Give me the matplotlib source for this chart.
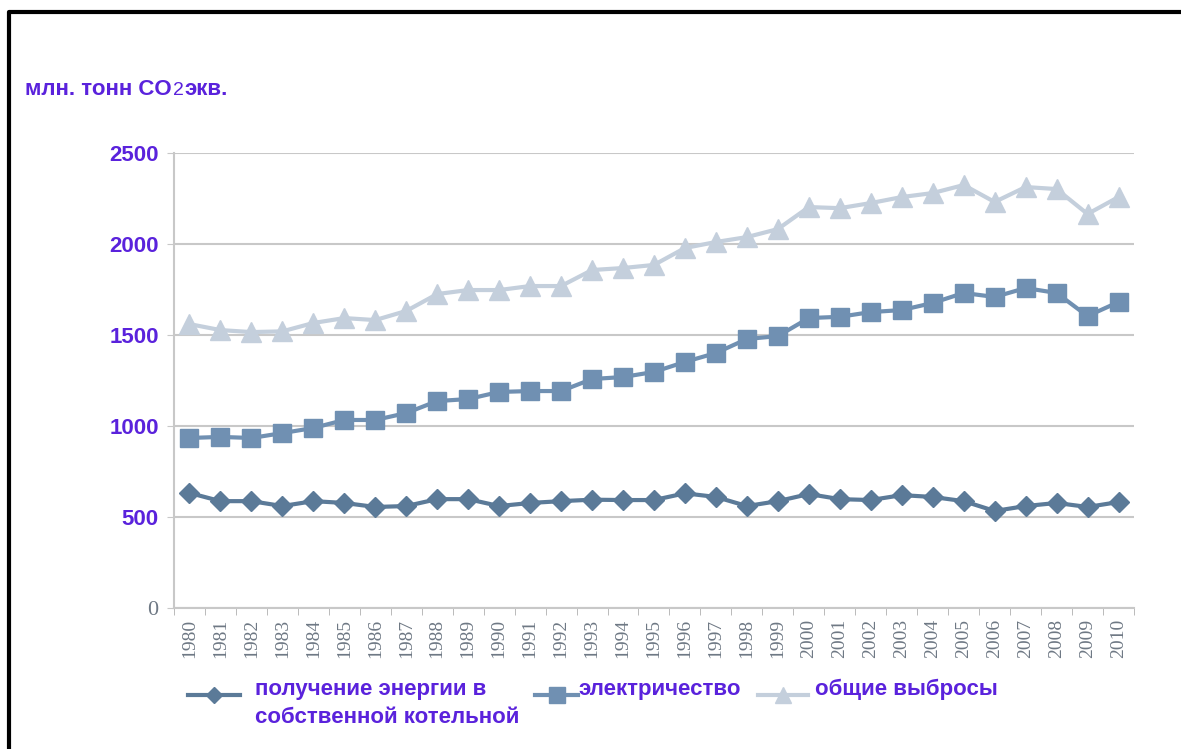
import matplotlib
matplotlib.use("Agg")
import matplotlib.pyplot as plt
from matplotlib.lines import Line2D

# данные (млн. тонн CO2 экв.)
years = [str(y) for y in range(1980, 2011)]
own_boiler = [632, 587, 587, 560, 587, 577, 555, 560, 598, 598,
              560, 577, 587, 595, 593, 593, 630, 610, 560, 587,
              626, 598, 593, 620, 610, 587, 533, 560, 577, 555, 582]
electricity = [934, 940, 934, 961, 989, 1033, 1033, 1071, 1137, 1148,
               1187, 1192, 1192, 1258, 1269, 1297, 1352, 1401, 1478, 1494,
               1593, 1600, 1626, 1637, 1676, 1731, 1709, 1758, 1731, 1604, 1681]
total = [1560, 1527, 1516, 1520, 1566, 1593, 1582, 1632, 1725, 1747,
         1747, 1769, 1769, 1857, 1868, 1885, 1978, 2011, 2038, 2082,
         2203, 2197, 2225, 2258, 2280, 2324, 2231, 2313, 2302, 2165, 2258]
y_ticks = [0, 500, 1000, 1500, 2000, 2500]

labels = ["получение энергии в\nсобственной котельной", "электричество", "общие выбросы"]

PURPLE = "#5a22dc"
GREY_TXT = "#6e7884"
C_DIAM = "#5b7a98"
C_SQ = "#7090b2"
C_TRI = "#c4cfdc"

plt.rcParams["font.family"] = ["Liberation Sans", "DejaVu Sans"]

fig = plt.figure(figsize=(11.81, 7.49), dpi=100)
ax = fig.add_axes([0.1473, 0.1883, 0.8129, 0.6074])

x = list(range(len(years)))
ax.plot(x, total, color=C_TRI, lw=3, marker="^", ms=14, zorder=3)
ax.plot(x, electricity, color=C_SQ, lw=3, marker="s", ms=13, zorder=4)
ax.plot(x, own_boiler, color=C_DIAM, lw=3, marker="D", ms=10, zorder=5)

ax.set_xlim(-0.5, len(years) - 0.5)
ax.set_ylim(0, 2500)
ax.set_yticks(y_ticks)
ax.set_yticklabels([str(v) for v in y_ticks])
ax.yaxis.grid(True, color="#c8c8c8", lw=1.5)
ax.set_axisbelow(True)

ax.set_xticks(x)
ax.set_xticklabels(years, rotation=90, family="Liberation Serif",
                   fontsize=14, color=GREY_TXT)
ax.tick_params(axis="x", length=0, pad=8)
ax.set_xticks([i + 0.5 for i in range(-1, len(years))], minor=True)
ax.tick_params(axis="x", which="minor", length=5, color="#b0b0b0")
ax.tick_params(axis="y", length=5, color="#c8c8c8", pad=6)

for i, lab in enumerate(ax.get_yticklabels()):
    if i == 0:
        lab.set_family("Liberation Serif")
        lab.set_color(GREY_TXT)
        lab.set_fontsize(16)
    else:
        lab.set_color(PURPLE)
        lab.set_fontweight("bold")
        lab.set_fontsize(16)

for s in ["top", "right"]:
    ax.spines[s].set_visible(False)
for s in ["left", "bottom"]:
    ax.spines[s].set_color("#c8c8c8")
    ax.spines[s].set_linewidth(1.5)

# заголовок оси
fig.canvas.draw()
rend = fig.canvas.get_renderer()
t1 = fig.text(25 / 1181, 1 - 95 / 749, "млн. тонн CO", color=PURPLE,
              fontsize=16, fontweight="bold", va="baseline")
fig.canvas.draw()
bb = t1.get_window_extent(rend)
t2 = fig.text(bb.x1 / 1181 + 0.001, 1 - 95 / 749, "2", color=PURPLE,
              fontsize=14, va="baseline")
fig.canvas.draw()
bb = t2.get_window_extent(rend)
fig.text(bb.x1 / 1181 + 0.001, 1 - 95 / 749, "экв.", color=PURPLE,
         fontsize=16, fontweight="bold", va="baseline")

# легенда
legend_items = [
    (C_DIAM, "D", 8, 188, 240, 255),
    (C_SQ, "s", 11, 535, 578, 578),
    (C_TRI, "^", 11, 758, 808, 815),
]
for (col, mk, ms, x0, x1, tx), lab in zip(legend_items, labels):
    yy = 1 - 695 / 749
    fig.add_artist(Line2D([x0 / 1181, x1 / 1181], [yy, yy], color=col, lw=3,
                          transform=fig.transFigure))
    fig.add_artist(Line2D([(x0 + x1) / 2 / 1181], [yy], color=col, marker=mk,
                          ms=ms, transform=fig.transFigure))
    fig.text(tx / 1181, 1 - 679 / 749, lab, color=PURPLE, fontsize=16,
             fontweight="bold", va="top", linespacing=1.45)

# рамка
fig.add_artist(Line2D([9 / 1181, 9 / 1181, 1.0], [0.0, 1 - 12 / 749, 1 - 12 / 749],
                      color="black", lw=3, transform=fig.transFigure))

fig.savefig("out.png", dpi=100)
